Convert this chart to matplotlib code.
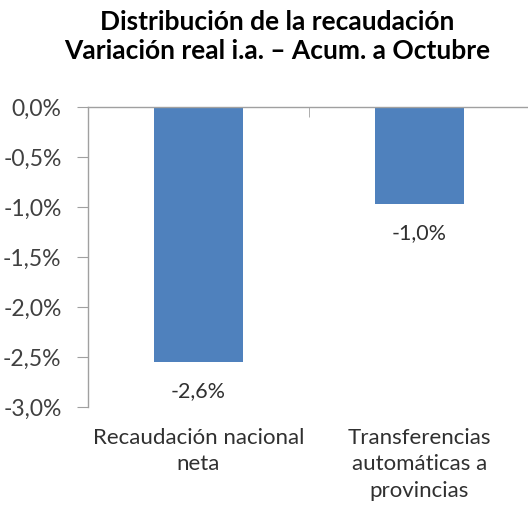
import matplotlib.pyplot as plt
import numpy as np

plt.rcParams['font.family'] = ['Lato', 'DejaVu Sans']

# datos
categorias = ['Recaudación nacional\nneta', 'Transferencias\nautomáticas a\nprovincias']
variaciones = [-2.55, -0.97]
etiquetas = ['-2,6%', '-1,0%']
ticks_y = [0.0, -0.5, -1.0, -1.5, -2.0, -2.5, -3.0]
ticks_y_txt = ['0,0%', '-0,5%', '-1,0%', '-1,5%', '-2,0%', '-2,5%', '-3,0%']

W, H = 528, 509
fig = plt.figure(figsize=(W / 100, H / 100), dpi=100)
ax = fig.add_axes([88 / W, 102 / H, 442 / W, 300 / H])

x = np.arange(len(categorias))
bars = ax.bar(x, variaciones, width=0.4, color='#4f81bd', zorder=2)

ax.set_xlim(-0.5, 1.5)
ax.set_ylim(-3.0, 0.0)
ax.set_yticks(ticks_y)
ax.set_yticklabels(ticks_y_txt, fontsize=16.5, color='#404040')

# etiquetas de categoría abajo, sin marcas
ax.set_xticks(x)
ax.set_xticklabels(categorias, fontsize=16, color='#303030', linespacing=1.4)
ax.tick_params(axis='x', which='major', length=0, pad=15)
# marcas entre categorías sobre el eje en 0
ax.set_xticks([0.5], minor=True)
ax.tick_params(axis='x', which='minor', top=True, bottom=False, direction='in',
               length=7, color='#a0a0a0')
ax.tick_params(axis='y', length=8, color='#a0a0a0', pad=11)

for s in ['right', 'bottom']:
    ax.spines[s].set_visible(False)
for s in ['left', 'top']:
    ax.spines[s].set_color('#a0a0a0')
    ax.spines[s].set_linewidth(1)

for b, t in zip(bars, etiquetas):
    ax.annotate(t, (b.get_x() + b.get_width() / 2, b.get_height()),
                xytext=(0, -14), textcoords='offset points',
                ha='center', va='top', fontsize=15.5, color='#303030')

fig.text(277 / W, 1 - 22 / H, 'Distribución de la recaudación',
         ha='center', va='center', fontsize=19, fontweight='bold')
fig.text(277 / W, 1 - 51 / H, 'Variación real i.a. – Acum. a Octubre',
         ha='center', va='center', fontsize=19, fontweight='bold')

fig.savefig('out.png', dpi=100)
